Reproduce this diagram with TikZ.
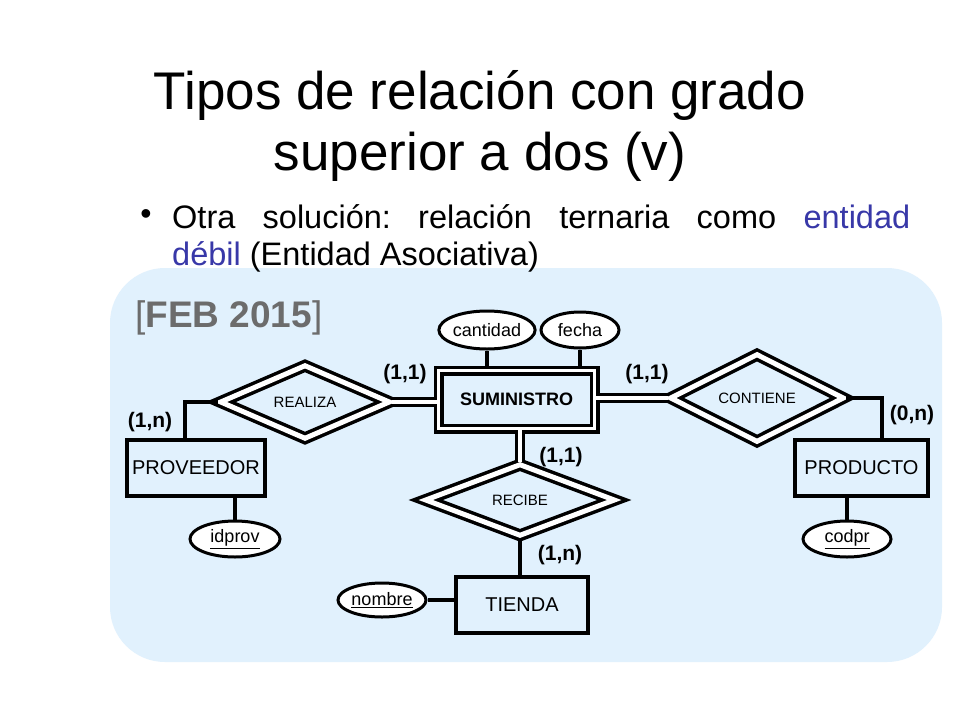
\documentclass[tikz,border=0pt]{standalone}
\usepackage{fontspec}
\setmainfont{Liberation Sans}
\usetikzlibrary{shapes.geometric}
\begin{document}
\begin{tikzpicture}[x=1pt,y=-1pt,
  ent/.style={draw,line width=3.5pt,minimum width=#1,minimum height=56pt,inner sep=0pt,font=\fontsize{20}{20}\selectfont},
  rel/.style={diamond,draw,line width=3.5pt,double,double distance=5pt,inner sep=0pt,font=\fontsize{15}{15}\selectfont},
  attr/.style={ellipse,draw,line width=3pt,fill=white,inner sep=0pt,font=\fontsize{18}{18}\selectfont},
  card/.style={font=\bfseries\fontsize{21}{21}\selectfont},
  conn/.style={line width=3.5pt},
  dconn/.style={line width=3pt,double,double distance=3.5pt}]
\useasboundingbox (0,0) rectangle (960,720);
\fill[white] (0,0) rectangle (960,720);
\definecolor{panel}{HTML}{E1F1FD}
\fill[panel,rounded corners=55pt] (110,268) rectangle (942,662);
\node (t1) at (480,95) {\fontsize{53}{53}\selectfont Tipos de relación con grado};
\node (t2) at (480,157) {\fontsize{53}{53}\selectfont superior a dos (v)};
\node (b) at (146,217) {\fontsize{32}{32}\selectfont •};
\node[anchor=west,inner sep=0pt] (l1) at (172,217) {\fontsize{32.5}{32}\selectfont\hbox to 738pt{Otra\hfill solución:\hfill relación\hfill ternaria\hfill como\hfill \textcolor[HTML]{3838A8}{entidad}}};
\node[anchor=west,inner sep=0pt] (l2) at (172,257) {\fontsize{32.5}{32}\selectfont \textcolor[HTML]{3838A8}{débil} (Entidad Asociativa)};
\node[anchor=west,text=gray!85!black,inner sep=0pt] (feb) at (135,318) {\fontsize{37}{37}\selectfont [\textbf{FEB 2015}]};
% entities
\node[draw,line width=3.5pt,double,double distance=3pt,minimum width=156pt,minimum height=58pt,inner sep=0pt,font=\bfseries\fontsize{18}{18}\selectfont] (sum) at (516.5,399.5) {SUMINISTRO};
\node[ent=138pt] (prov) at (196,468) {PROVEEDOR};
\node[ent=133pt] (prod) at (861.5,468) {PRODUCTO};
\node[ent=132pt] (tie) at (522,605) {TIENDA};
% relations
\node[rel,minimum width=170pt,minimum height=74pt] (rea) at (305,402) {REALIZA};
\node[rel,minimum width=174pt,minimum height=76pt] (con) at (757,398) {CONTIENE};
\node[rel,minimum width=190pt,minimum height=72pt] (rec) at (520,500) {RECIBE};
% attributes
\node[attr,minimum width=88pt,minimum height=38pt] (cant) at (487,330) {cantidad};
\node[attr,minimum width=78pt,minimum height=36pt] (fec) at (580,330) {fecha};
\node[attr,minimum width=90pt,minimum height=36pt] (idp) at (235,539) {\underline{idprov}};
\node[attr,minimum width=88pt,minimum height=36pt] (cod) at (847,539) {\underline{codpr}};
\node[attr,minimum width=88pt,minimum height=34pt] (nom) at (382,600) {\underline{nombre}};
% connectors
\draw[conn] (cant.south) -- (cant.south |- sum.north);
\draw[conn] (fec.south) -- (fec.south |- sum.north);
\draw[conn] (rea.west) -| (prov.north -| 185,0);
\draw[conn] (con.east) -| (prod.north -| 882,0);
\draw[conn] (idp.north) -- (idp.north |- prov.south);
\draw[conn] (cod.north) -- (cod.north |- prod.south);
\draw[conn] (rec.south) -- (rec.south |- tie.north);
\draw[conn] (nom.east) -- (tie.west |- nom.east);
\draw[dconn] (rea.east) -- (sum.west |- rea.east);
\draw[dconn] (sum.east |- con.west) -- (con.west);
\draw[dconn] (sum.south -| rec.north) -- (rec.north);
% cardinalities
\node[card] (c1) at (150,422) {(1,n)};
\node[card] (c2) at (405,374) {(1,1)};
\node[card] (c3) at (647,374) {(1,1)};
\node[card] (c4) at (912,415) {(0,n)};
\node[card] (c5) at (561,457) {(1,1)};
\node[card] (c6) at (560,555) {(1,n)};
\end{tikzpicture}
\end{document}
